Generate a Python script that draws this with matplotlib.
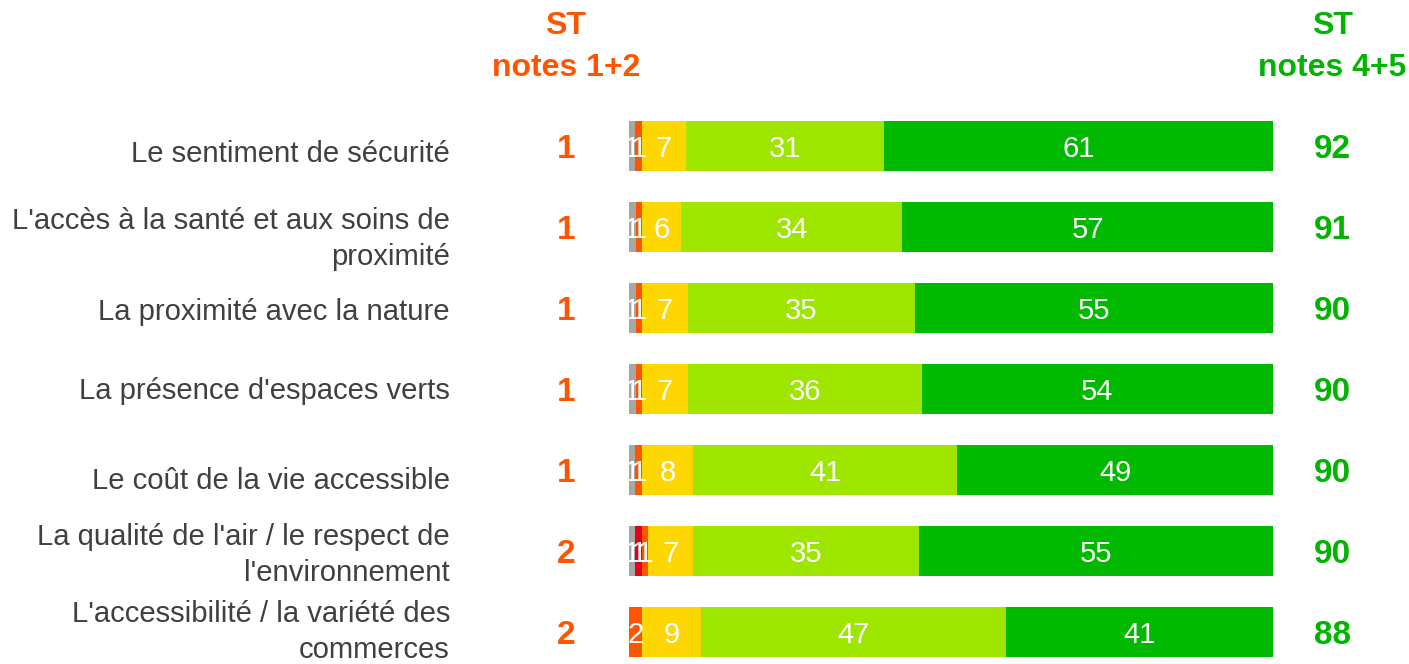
import numpy as np
import matplotlib
matplotlib.use("Agg")
import matplotlib.pyplot as plt

plt.rcParams['font.family'] = ['Liberation Sans', 'DejaVu Sans']

# Data
items = [
    "Le sentiment de sécurité",
    "L'accès à la santé et aux soins de\nproximité",
    "La proximité avec la nature",
    "La présence d'espaces verts",
    "Le coût de la vie accessible",
    "La qualité de l'air / le respect de\nl'environnement",
    "L'accessibilité / la variété des\ncommerces",
]
nsp = [1, 1, 1, 1, 1, 1, 0]       # grey
note1 = [0, 0, 0, 0, 0, 1, 0]     # red
note2 = [1, 1, 1, 1, 1, 1, 2]     # orange
note3 = [7, 6, 7, 7, 8, 7, 9]     # yellow
note4 = [31, 34, 35, 36, 41, 35, 47]  # light green
note5 = [61, 57, 55, 54, 49, 55, 41]  # green
st_low = [1, 1, 1, 1, 1, 2, 2]
st_high = [92, 91, 90, 90, 90, 90, 88]

series = [nsp, note1, note2, note3, note4, note5]
colors = ['#A6A6A6', '#E3001B', '#FF5500', '#FFD700', '#9EE600', '#00B900']
orange = '#FF5500'
green = '#00B400'

# small vertical nudges of the row labels (in row units)
label_dy = [0.1, 0.145, 0.055, 0.025, 0.13, 0.05, 0.0]

fig = plt.figure(figsize=(14.09, 6.64), dpi=100)
ax = fig.add_axes([629 / 1409, 0, 644 / 1409, 1])
ax.set_xlim(0, 100)
ax.set_ylim(6.395, -1.802)
ax.axis('off')

vals = np.array(series, dtype=float)
totals = vals.sum(axis=0)
left = np.zeros(len(items))
ypos = np.arange(len(items))
for s, c in zip(vals, colors):
    w = s * 100 / totals
    ax.barh(ypos, w, left=left, height=0.62, color=c, linewidth=0)
    for i in range(len(items)):
        if s[i] > 0:
            ax.text(left[i] + w[i] / 2, ypos[i] + 0.035, f"{int(s[i])}", ha='center',
                    va='center', color='white', fontsize=21)
    left += w

for i, lab in enumerate(items):
    ax.text(-27.8, ypos[i] + label_dy[i], lab, ha='right', va='center', color='#404040',
            fontsize=21.1, linespacing=1.38, clip_on=False)
    ax.text(-9.8, ypos[i] + 0.04, str(st_low[i]), ha='center', va='center', color=orange,
            fontsize=24, fontweight='bold', clip_on=False)
    ax.text(109.2, ypos[i] + 0.04, str(st_high[i]), ha='center', va='center', color=green,
            fontsize=24, fontweight='bold', clip_on=False)

ax.text(-9.8, -1.22, "ST\nnotes 1+2", ha='center', va='center', color=orange,
        fontsize=23, fontweight='bold', linespacing=1.5, clip_on=False)
ax.text(109.2, -1.22, "ST\nnotes 4+5", ha='center', va='center', color=green,
        fontsize=23, fontweight='bold', linespacing=1.5, clip_on=False)

fig.savefig("out.png", dpi=100)
